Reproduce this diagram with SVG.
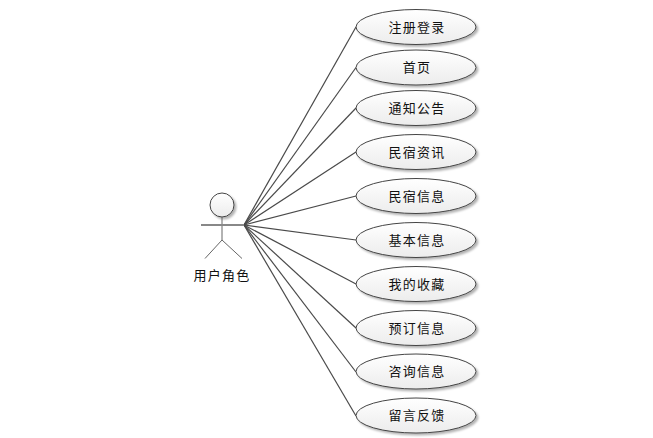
<svg xmlns="http://www.w3.org/2000/svg" width="653" height="438" viewBox="0 0 653 438">
<style>
text{font-family:"Noto Sans CJK SC","Liberation Sans",sans-serif;font-size:13px;fill:#111;text-anchor:middle;letter-spacing:1.2px}
.u{fill:url(#g);stroke:#444;stroke-width:1;filter:url(#s)}
.c{stroke:#4a4a4a;stroke-width:1.2;fill:none}
</style>
<defs>
<linearGradient id="g" x1="0" y1="0" x2="0" y2="1"><stop offset="0" stop-color="#fff"/><stop offset="1" stop-color="#ececec"/></linearGradient>
<filter id="s" x="-10%" y="-20%" width="125%" height="150%"><feDropShadow dx="2" dy="2" stdDeviation="1.2" flood-color="#000" flood-opacity="0.3"/></filter>
<ellipse id="e" cx="416" cy="0" rx="60" ry="17.5" class="u"/>
</defs>
<rect width="653" height="438" fill="#fff"/>
<g id="connectors" class="c">
<line x1="244" y1="225" x2="356" y2="27"/>
<line x1="244" y1="225" x2="356" y2="67.5"/>
<line x1="244" y1="225" x2="356" y2="108"/>
<line x1="244" y1="225" x2="356" y2="152"/>
<line x1="244" y1="225" x2="356" y2="196"/>
<line x1="244" y1="225" x2="356" y2="240"/>
<line x1="244" y1="225" x2="356" y2="284"/>
<line x1="244" y1="225" x2="356" y2="328"/>
<line x1="244" y1="225" x2="356" y2="372"/>
<line x1="244" y1="225" x2="356" y2="416"/>
</g>
<g id="actor">
<circle cx="222" cy="205" r="12" class="u"/>
<path d="M222 217V240M222 240L205 258.5M222 240L242 258.5" stroke="#666" fill="none"/>
<path d="M201 225H244" stroke="#888" stroke-width="2" fill="none"/>
<text x="222" y="279.500">用户角色</text>
</g>
<g id="n1"><use href="#e" y="27"/><text x="417" y="31.500">注册登录</text></g>
<g id="n2"><use href="#e" y="67.5"/><text x="417" y="72">首页</text></g>
<g id="n3"><use href="#e" y="108"/><text x="417" y="112.500">通知公告</text></g>
<g id="n4"><use href="#e" y="152"/><text x="417" y="156.500">民宿资讯</text></g>
<g id="n5"><use href="#e" y="196"/><text x="417" y="200.500">民宿信息</text></g>
<g id="n6"><use href="#e" y="240"/><text x="417" y="244.500">基本信息</text></g>
<g id="n7"><use href="#e" y="284"/><text x="417" y="288.500">我的收藏</text></g>
<g id="n8"><use href="#e" y="328"/><text x="417" y="332.500">预订信息</text></g>
<g id="n9"><use href="#e" y="371.5"/><text x="417" y="376">咨询信息</text></g>
<g id="n10"><use href="#e" y="415.5"/><text x="417" y="420">留言反馈</text></g>
</svg>
